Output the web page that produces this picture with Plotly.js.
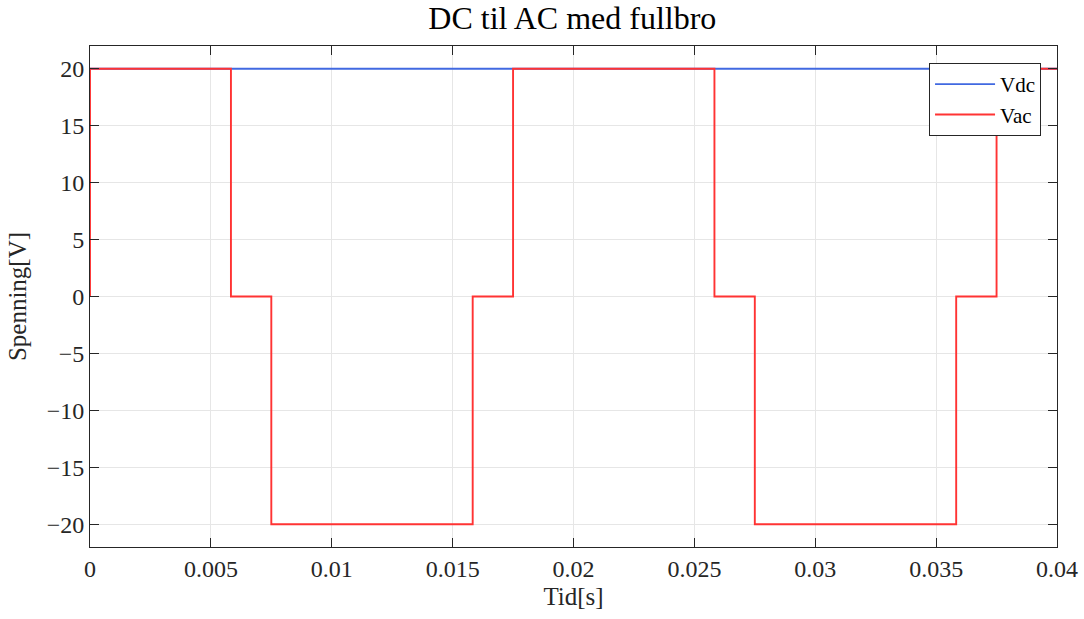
<!DOCTYPE html>
<html>
<head>
<meta charset="utf-8">
<script src="https://cdn.plot.ly/plotly-3.0.1.min.js"></script>
<style>html,body{margin:0;padding:0;background:#fff;}#chart{width:1084px;height:619px;}</style>
</head>
<body>
<div id="chart"></div>
<script>
// Vdc: constant DC source
const vdcTime = [0, 0.04];
const vdcValues = [20, 20];
// Vac: switching instants (step, held value after each instant)
const vacTime = [0, 0, 0.00583, 0.0075, 0.01583, 0.0175, 0.02583, 0.0275, 0.03583, 0.0375, 0.04];
const vacValues = [0, 20, 0, -20, 0, 20, 0, -20, 0, 20, 20];
const xTicks = [0, 0.005, 0.01, 0.015, 0.02, 0.025, 0.03, 0.035, 0.04];
const xTickLabels = ['0', '0.005', '0.01', '0.015', '0.02', '0.025', '0.03', '0.035', '0.04'];
const yTicks = [-20, -15, -10, -5, 0, 5, 10, 15, 20];
const yTickLabels = ['\u221220', '\u221215', '\u221210', '\u22125', '0', '5', '10', '15', '20'];

const font = 'Liberation Serif, DejaVu Serif, serif';
const traces = [
  {x: vdcTime, y: vdcValues, name: 'Vdc', mode: 'lines', line: {color: '#4169e1', width: 1.8}},
  {x: vacTime, y: vacValues, name: 'Vac', mode: 'lines', line: {color: '#ff3333', width: 1.9, shape: 'hv'}}
];
const axisCommon = {
  showline: true, linecolor: '#262626', linewidth: 1, mirror: 'ticks',
  ticks: 'inside', ticklen: 9, tickcolor: '#262626', tickwidth: 1,
  showgrid: true, gridcolor: '#e6e6e6', gridwidth: 1, zeroline: false,
  tickfont: {family: font, size: 24, color: '#262626'}
};
const layout = {
  width: 1084, height: 619,
  margin: {l: 90, r: 27, t: 46, b: 72},
  paper_bgcolor: '#ffffff', plot_bgcolor: '#ffffff',
  title: {text: 'DC til AC med fullbro', font: {family: font, size: 32, color: '#000'}, x: 0.528, xanchor: 'center', y: 0.99, yanchor: 'top'},
  xaxis: Object.assign({}, axisCommon, {
    range: [0, 0.04], tickvals: xTicks, ticktext: xTickLabels,
    title: {text: 'Tid[s]', font: {family: font, size: 25, color: '#262626'}, standoff: 6}
  }),
  yaxis: Object.assign({}, axisCommon, {
    range: [-22, 22], tickvals: yTicks, ticktext: yTickLabels,
    title: {text: 'Spenning[V]', font: {family: font, size: 25, color: '#262626'}, standoff: 12}
  }),
  showlegend: true,
  legend: {
    x: 0.9835, xanchor: 'right', y: 0.966, yanchor: 'top',
    bgcolor: '#ffffff', bordercolor: '#262626', borderwidth: 1,
    font: {family: font, size: 21, color: '#000'},
    tracegroupgap: 0, itemwidth: 60
  }
};
Plotly.newPlot('chart', traces, layout, {displayModeBar: false, staticPlot: true});
</script>
</body>
</html>
